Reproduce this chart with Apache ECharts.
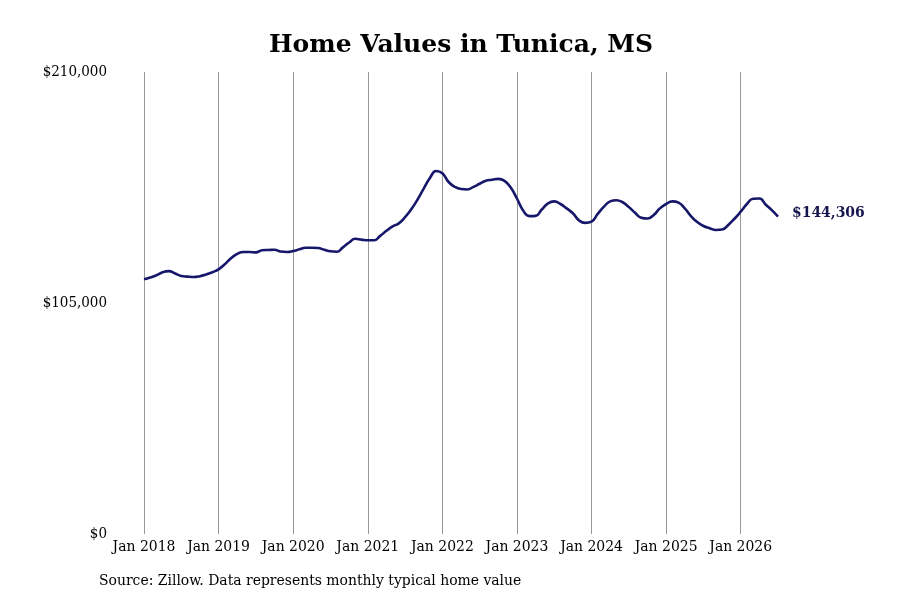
<!DOCTYPE html>
<html>
<head>
<meta charset="utf-8">
<script src="https://cdn.jsdelivr.net/npm/echarts@6/dist/echarts.min.js"></script>
<style>
  html, body { margin: 0; padding: 0; background: #fff; }
  #main { width: 900px; height: 600px; }
</style>
</head>
<body>
<div id="main"></div>
<script>
// monthly typical home value, Jan 2018 .. Jul 2026
var startYear = 2018;
var values = [
  115800, 116600, 117600, 119000, 119500, 118400, 117300, 117000, 116800, 117200, 118000, 119000,
  120300, 122600, 125300, 127300, 128200, 128200, 128000, 129000, 129100, 129200, 128400, 128200,
  128600, 129400, 130100, 130100, 130000, 129200, 128500, 128300, 130300, 132500, 134200, 133800,
  133500, 133500, 135500, 137800, 139800, 141200, 144000, 147600, 152000, 157000, 161800, 165000,
  164000, 160000, 157800, 156800, 156600, 157800, 159200, 160600, 161000, 161400, 160500, 157500,
  152500, 147000, 144500, 144600, 147500, 150300, 151200, 150000, 148000, 145800, 142500, 141400,
  142000, 145500, 148800, 151200, 151700, 150800, 148600, 146000, 143800, 143400, 145000, 148000,
  150000, 151200, 150600, 148000, 144500, 141800, 140000, 139000, 138200, 138400, 140500, 143300,
  146500, 150000, 152400, 152500, 149800, 147200, 144306
];
var yTicks = [0, 105000, 210000];
var monthNames = ['Jan','Feb','Mar','Apr','May','Jun','Jul','Aug','Sep','Oct','Nov','Dec'];

var months = [];
for (var i = 0; i < values.length; i++) {
  months.push(monthNames[i % 12] + ' ' + (startYear + Math.floor(i / 12)));
}

var serif = '"DejaVu Serif Condensed", "DejaVu Serif", serif';

function isJan(idx) { return idx % 12 === 0; }

var myChart = echarts.init(document.getElementById('main'));

var option = {
  backgroundColor: '#fff',
  title: {
    text: 'Home Values in Tunica, MS',
    left: 456,
    top: 28,
    textAlign: 'center',
    textStyle: {
      fontFamily: '"DejaVu Serif", serif',
      fontWeight: 'bold',
      fontSize: 25,
      color: '#000'
    }
  },
  grid: { left: 144, right: 122, top: 72, bottom: 66, containLabel: false },
  xAxis: {
    type: 'category',
    data: months,
    boundaryGap: false,
    axisLine: { show: false },
    axisTick: { show: false },
    axisLabel: {
      interval: function (idx) { return isJan(idx); },
      fontFamily: serif,
      fontSize: 15.5,
      color: '#000',
      margin: 5
    },
    splitLine: {
      show: true,
      interval: function (idx) { return isJan(idx); },
      lineStyle: { color: '#999', width: 1 }
    }
  },
  yAxis: {
    type: 'value',
    min: yTicks[0],
    max: yTicks[yTicks.length - 1],
    interval: yTicks[1] - yTicks[0],
    axisLine: { show: false },
    axisTick: { show: false },
    splitLine: { show: false },
    axisLabel: {
      fontFamily: serif,
      fontSize: 15,
      color: '#000',
      margin: 37,
      padding: [3, 0, 0, 0],
      formatter: function (v) { return '$' + v.toLocaleString('en-US'); }
    }
  },
  series: [{
    type: 'line',
    data: values,
    smooth: true,
    symbol: 'none',
    lineStyle: { color: '#16166b', width: 2.6 },
    endLabel: {
      show: true,
      distance: 14,
      offset: [0, -4],
      fontFamily: serif,
      fontWeight: 'bold',
      fontSize: 15.5,
      color: '#16164f',
      formatter: function (p) { return '$' + p.value.toLocaleString('en-US'); }
    }
  }],
  graphic: [{
    type: 'text',
    left: 99,
    top: 573,
    style: {
      text: 'Source: Zillow. Data represents monthly typical home value',
      font: '15.5px ' + serif,
      fill: '#000'
    }
  }],
  animation: false
};

if (option && typeof option === 'object') {
  myChart.setOption(option);
}
</script>
</body>
</html>
